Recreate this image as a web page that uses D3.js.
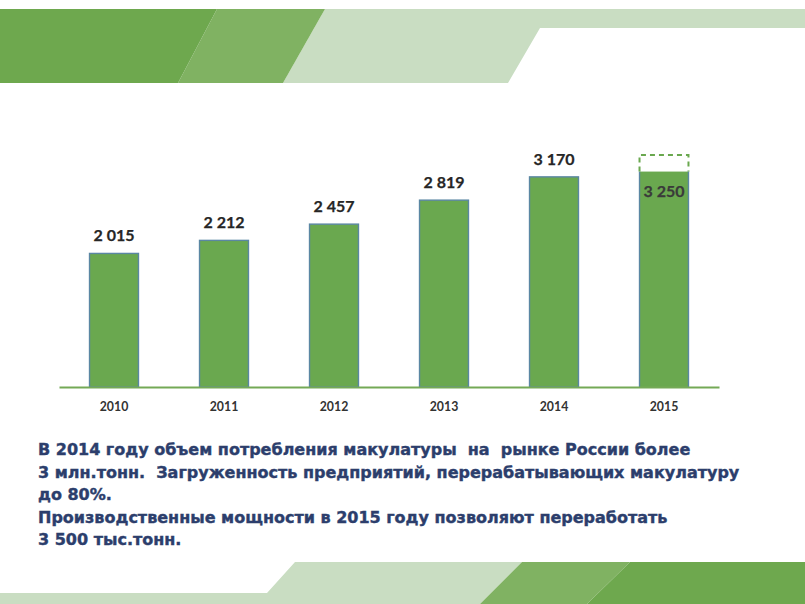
<!DOCTYPE html>
<html><head><meta charset="utf-8">
<script src="https://cdn.jsdelivr.net/npm/d3@7"></script>
<style>
html,body{margin:0;padding:0;background:#fff;}
svg{display:block;}
</style></head>
<body>
<svg id="c" width="805" height="604"></svg>
<script>
const years = ["2010","2011","2012","2013","2014","2015"];
const values = [2015, 2212, 2457, 2819, 3170, 3250];
const valueLabels = ["2 015","2 212","2 457","2 819","3 170","3 250"];
const capacityYear = "2015";
const capacityValue = 3500;
const textLines = [
  "В 2014 году объем потребления макулатуры  на  рынке России более",
  "3 млн.тонн.  Загруженность предприятий, перерабатывающих макулатуру",
  "до 80%.",
  "Производственные мощности в 2015 году позволяют переработать",
  "3 500 тыс.тонн."
];

const svg = d3.select("#c");
const dark = "#6ea84e", mid = "#80b262", light = "#c9ddc2";

// decorative bands (top)
const deco = svg.append("g");
deco.append("path").attr("fill", light)
  .attr("d", "M325,9 L805,9 L805,28 L540,28 L508,83 L283,83 Z");
deco.append("path").attr("fill", mid)
  .attr("d", "M217,9 L325,9 L283,83 L178,83 Z");
deco.append("path").attr("fill", dark)
  .attr("d", "M0,9 L217,9 L178,83 L0,83 Z");
// decorative bands (bottom)
deco.append("path").attr("fill", light)
  .attr("d", "M295,562 L522,562 L480,604 L0,604 L0,593 L267,593 Z");
deco.append("path").attr("fill", mid)
  .attr("d", "M522,562 L630,562 L587,604 L480,604 Z");
deco.append("path").attr("fill", dark)
  .attr("d", "M630,562 L805,562 L805,604 L587,604 Z");

// chart
const x = d3.scaleBand().domain(years).range([59, 719]).paddingInner(0.555).paddingOuter(0.2775);
const y = d3.scaleLinear().domain([0, 3500]).range([387, 155]);

const data = years.map((yr, i) => ({year: yr, value: values[i], label: valueLabels[i]}));

const g = svg.append("g");
g.selectAll("rect.bar").data(data).join("rect")
  .attr("class", "bar")
  .attr("x", d => x(d.year))
  .attr("width", x.bandwidth())
  .attr("y", d => y(d.value))
  .attr("height", d => y(0) - y(d.value))
  .attr("fill", "#6aa84f")
  .attr("stroke", d => d.year === capacityYear ? "none" : "#5b87a3")
  .attr("stroke-width", 1.4);

// side outline for capacity bar
const cd = data.find(d => d.year === capacityYear);
[x(capacityYear), x(capacityYear) + x.bandwidth()].forEach(px => {
  g.append("line").attr("x1", px).attr("x2", px)
    .attr("y1", y(cd.value)).attr("y2", y(0))
    .attr("stroke", "#5b87a3").attr("stroke-width", 1.4);
});
// dashed capacity outline
const cap = g.append("g").attr("fill", "none").attr("stroke", "#6aa84f")
  .attr("stroke-width", 2).attr("stroke-dasharray", "5,4");
cap.append("path").attr("d",
  `M${x(capacityYear)},${y(cd.value)} L${x(capacityYear)},${y(capacityValue)} L${x(capacityYear)+x.bandwidth()},${y(capacityValue)} L${x(capacityYear)+x.bandwidth()},${y(cd.value)}`);

// axis
const axis = g.append("g").attr("transform", `translate(0,${y(0)})`)
  .call(d3.axisBottom(x).tickSize(0).tickPadding(15));
axis.select(".domain").attr("stroke", "#74a956").attr("stroke-width", 2);
axis.selectAll("text").attr("font-family", "Lato, sans-serif").attr("font-weight", "bold")
  .attr("font-size", 12.3).attr("fill", "#333");

// value labels
g.selectAll("text.val").data(data).join("text")
  .attr("class", "val")
  .attr("x", d => x(d.year) + x.bandwidth() / 2)
  .attr("y", d => d.year === capacityYear ? y(d.value) + 25 : y(d.value) - 12)
  .attr("text-anchor", "middle")
  .attr("font-family", "Lato, sans-serif").attr("font-weight", "bold")
  .attr("font-size", 16).attr("fill", d => d.year === capacityYear ? "#3a3a3a" : "#262626")
  .attr("stroke", d => d.year === capacityYear ? "#3a3a3a" : "#262626").attr("stroke-width", 0.25)
  .text(d => d.label);

// paragraph text
svg.append("g").selectAll("text").data(textLines).join("text")
  .attr("x", 38)
  .attr("y", (d, i) => 455 + i * 22.5)
  .attr("font-family", "'DejaVu Sans', Verdana, sans-serif")
  .attr("font-weight", "bold")
  .attr("font-size", 16)
  .attr("fill", "#2c3e6c")
  .attr("stroke", "#2c3e6c").attr("stroke-width", 0.4)
  .attr("xml:space", "preserve")
  .style("white-space", "pre")
  .text(d => d);
</script>
</body></html>
